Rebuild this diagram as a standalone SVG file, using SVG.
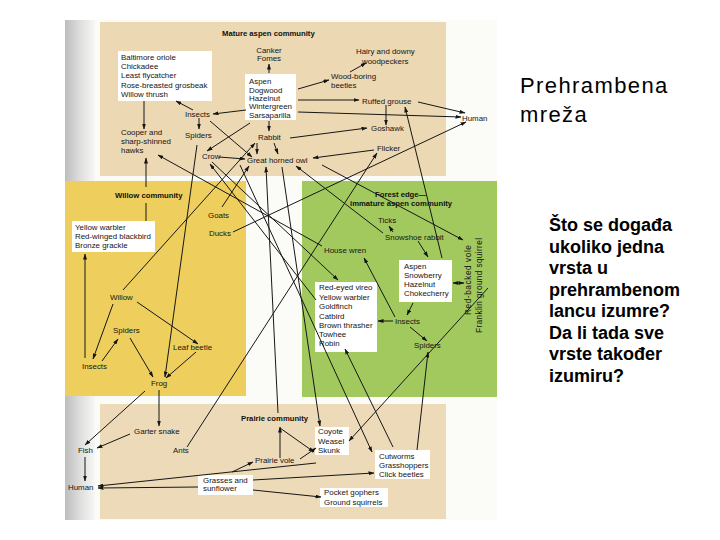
<svg xmlns="http://www.w3.org/2000/svg" width="720" height="540" viewBox="0 0 720 540">
<style>
.t{font-family:"Liberation Sans",Arial,sans-serif;font-size:7.9px;fill:#151515}
.b{font-family:"Liberation Sans",Arial,sans-serif;font-size:7.7px;font-weight:bold;fill:#111}
.box{fill:#ffffff}
.c line{stroke:#161616;stroke-width:1;marker-end:url(#ah)}
.c line.n{marker-end:none}
.h1{font-family:"Liberation Sans",Arial,sans-serif;font-size:22px;letter-spacing:1.4px;fill:#000}
.h2{font-family:"Liberation Sans",Arial,sans-serif;font-size:18px;font-weight:bold;fill:#000}
</style>
<defs>
<linearGradient id="gs" x1="0" y1="0" x2="1" y2="0">
<stop offset="0" stop-color="#bdbdbd"/>
<stop offset="0.5" stop-color="#dedede"/>
<stop offset="1" stop-color="#f7f7f5"/>
</linearGradient>
<marker id="ah" markerWidth="6" markerHeight="4" refX="5.5" refY="2" orient="auto" markerUnits="userSpaceOnUse">
<path d="M0,0 L6,2 L0,4 z" fill="#161616"/>
</marker>
<marker id="as" markerWidth="6" markerHeight="4" refX="0.5" refY="2" orient="auto" markerUnits="userSpaceOnUse">
<path d="M6,0 L0,2 L6,4 z" fill="#161616"/>
</marker>
</defs>
<rect width="720" height="540" fill="#ffffff"/>
<g id="background">
<rect x="65" y="20" width="432" height="500" fill="#fbfbf8"/>
<rect x="65" y="20" width="30" height="500" fill="url(#gs)"/>
<rect x="100" y="22" width="346" height="154" fill="#ecd8b2"/>
<rect x="65" y="181" width="181" height="215" fill="#eecf5d"/>
<rect x="302" y="181" width="195" height="216" fill="#a2c95e"/>
<rect x="100" y="404" width="346" height="115" fill="#ecdab9"/>
</g>
<g id="region-labels">
<text class="b" x="222" y="36">Mature aspen community</text>
<text class="b" x="115" y="198">Willow community</text>
<text class="b" x="375" y="197">Forest edge—</text>
<text class="b" x="350" y="206">immature aspen community</text>
<text class="b" x="241" y="421">Prairie community</text>
</g>
<g id="n-birds"><rect class="box" x="118" y="51" width="94" height="50"/>
<text class="t" x="121" y="60.4">Baltimore oriole</text><text class="t" x="121" y="69.4">Chickadee</text><text class="t" x="121" y="78.4">Least flycatcher</text><text class="t" x="121" y="87.7">Rose-breasted grosbeak</text><text class="t" x="121" y="96.7">Willow thrush</text></g>
<g id="n-canker"><text class="t" x="269" y="53" text-anchor="middle">Canker</text><text class="t" x="269" y="61" text-anchor="middle">Fomes</text></g>
<g id="n-aspen1"><rect class="box" x="245" y="74" width="51" height="46"/>
<text class="t" x="249" y="84.4">Aspen</text><text class="t" x="249" y="92.7">Dogwood</text><text class="t" x="249" y="101">Hazelnut</text><text class="t" x="249" y="109.4">Wintergreen</text><text class="t" x="249" y="117.7">Sarsaparilla</text></g>
<g id="n-woodpeckers"><text class="t" x="356" y="54.4">Hairy and downy</text><text class="t" x="362" y="63.7">woodpeckers</text></g>
<g id="n-woodboring"><text class="t" x="331" y="79.4">Wood-boring</text><text class="t" x="331" y="88.4">beetles</text></g>
<g id="n-grouse"><text class="t" x="362" y="103.7">Ruffed grouse</text></g>
<g id="n-human1"><text class="t" x="462" y="121">Human</text></g>
<g id="n-goshawk"><text class="t" x="371" y="131">Goshawk</text></g>
<g id="n-flicker"><text class="t" x="377" y="151">Flicker</text></g>
<g id="n-insects1"><text class="t" x="185" y="116.5">Insects</text></g>
<g id="n-spiders1"><text class="t" x="185" y="138.4">Spiders</text></g>
<g id="n-hawks"><text class="t" x="121" y="135">Cooper and</text><text class="t" x="121" y="144.4">sharp-shinned</text><text class="t" x="121" y="153.4">hawks</text></g>
<g id="n-crow"><text class="t" x="202" y="158.5">Crow</text></g>
<g id="n-rabbit"><text class="t" x="258" y="140.3">Rabbit</text></g>
<g id="n-owl"><text class="t" x="247" y="162.5">Great horned owl</text></g>
<g id="n-goats"><text class="t" x="208" y="218">Goats</text></g>
<g id="n-ducks"><text class="t" x="209" y="236">Ducks</text></g>
<g id="n-warbler"><rect class="box" x="72" y="221" width="83" height="31"/>
<text class="t" x="75" y="230">Yellow warbler</text><text class="t" x="75" y="238.7">Red-winged blackbird</text><text class="t" x="75" y="248.4">Bronze grackle</text></g>
<g id="n-willow"><text class="t" x="110" y="300.4">Willow</text></g>
<g id="n-spiders2"><text class="t" x="113" y="332.7">Spiders</text></g>
<g id="n-leafbeetle"><text class="t" x="173" y="350.4">Leaf beetle</text></g>
<g id="n-insects2"><text class="t" x="82" y="369.4">Insects</text></g>
<g id="n-frog"><text class="t" x="151" y="386">Frog</text></g>
<g id="n-ticks"><text class="t" x="378" y="222.7">Ticks</text></g>
<g id="n-snowshoe"><text class="t" x="385" y="239.7">Snowshoe rabbit</text></g>
<g id="n-housewren"><text class="t" x="324" y="252.7">House wren</text></g>
<g id="n-aspen2"><rect class="box" x="399" y="260" width="53" height="42"/>
<text class="t" x="404" y="268.7">Aspen</text><text class="t" x="404" y="277.7">Snowberry</text><text class="t" x="404" y="286.7">Hazelnut</text><text class="t" x="404" y="296">Chokecherry</text></g>
<g id="n-vole"><text class="t" transform="translate(471,315) rotate(-90)" textLength="70" lengthAdjust="spacing" style="font-size:8.3px">Red-backed vole</text></g>
<g id="n-squirrel"><text class="t" transform="translate(482,333) rotate(-90)" textLength="95" lengthAdjust="spacing" style="font-size:8.3px">Franklin ground squirrel</text></g>
<g id="n-songbirds"><rect class="box" x="315" y="282" width="62" height="70"/>
<text class="t" x="319" y="290.4">Red-eyed vireo</text><text class="t" x="319" y="299.7">Yellow warbler</text><text class="t" x="319" y="309">Goldfinch</text><text class="t" x="319" y="318.7">Catbird</text><text class="t" x="319" y="327.7">Brown thrasher</text><text class="t" x="319" y="337">Towhee</text><text class="t" x="319" y="346.4">Robin</text></g>
<g id="n-insects3"><text class="t" x="395" y="323.7">Insects</text></g>
<g id="n-spiders3"><text class="t" x="414" y="347.7">Spiders</text></g>
<g id="n-garter"><text class="t" x="134" y="433.5">Garter snake</text></g>
<g id="n-fish"><text class="t" x="78" y="453.4">Fish</text></g>
<g id="n-human2"><text class="t" x="68" y="490">Human</text></g>
<g id="n-ants"><text class="t" x="173" y="453.4">Ants</text></g>
<g id="n-prairievole"><text class="t" x="255" y="463.4">Prairie vole</text></g>
<g id="n-grasses"><rect class="box" x="198" y="475" width="55" height="20"/>
<text class="t" x="203" y="482.7">Grasses and</text><text class="t" x="203" y="491">sunflower</text></g>
<g id="n-coyote"><rect class="box" x="315" y="427" width="34" height="28"/>
<text class="t" x="318" y="434.4">Coyote</text><text class="t" x="318" y="443.7">Weasel</text><text class="t" x="318" y="452.7">Skunk</text></g>
<g id="n-cutworms"><rect class="box" x="375" y="450" width="55" height="29"/>
<text class="t" x="379" y="458.7">Cutworms</text><text class="t" x="379" y="467.7">Grasshoppers</text><text class="t" x="379" y="477">Click beetles</text></g>
<g id="n-gophers"><rect class="box" x="320" y="488" width="68" height="19"/>
<text class="t" x="324" y="495">Pocket gophers</text><text class="t" x="324" y="505">Ground squirrels</text></g>
<g id="connectors" class="c">
<line x1="269" y1="73" x2="269" y2="64"/>
<line x1="298" y1="89" x2="329" y2="80"/>
<line x1="350" y1="72" x2="366" y2="63"/>
<line x1="298" y1="100" x2="359" y2="100"/>
<line x1="298" y1="112" x2="461" y2="117"/>
<line x1="418" y1="102" x2="465" y2="113"/>
<line x1="386" y1="105" x2="386" y2="125"/>
<line x1="290" y1="138" x2="367" y2="128"/>
<line x1="374" y1="150" x2="313" y2="158"/>
<line x1="144" y1="101" x2="144" y2="129"/>
<line x1="193" y1="110" x2="176" y2="101"/>
<line x1="246" y1="110" x2="213" y2="114"/>
<line x1="199" y1="118" x2="199" y2="129"/>
<line x1="210" y1="121" x2="252" y2="157"/>
<line x1="269" y1="121" x2="269" y2="131"/>
<line x1="257" y1="143" x2="257" y2="154"/>
<line x1="274" y1="143" x2="278" y2="154"/>
<line x1="219" y1="157" x2="245" y2="159"/>
<line x1="250" y1="123" x2="207" y2="151"/>
<line x1="123" y1="290" x2="255" y2="143"/>
<line x1="197" y1="145" x2="165" y2="377"/>
<line x1="322" y1="246" x2="158" y2="155"/>
<line x1="316" y1="300" x2="210" y2="164"/>
<line x1="222" y1="207" x2="249" y2="166"/>
<line x1="233" y1="232" x2="466" y2="122"/>
<line x1="383" y1="233" x2="296" y2="166"/>
<line x1="442" y1="258" x2="405" y2="107"/>
<line x1="418" y1="241" x2="428" y2="257"/>
<line x1="187" y1="447" x2="377" y2="153"/>
<line x1="146" y1="187" x2="146" y2="158"/>
<line class="n" x1="146" y1="203" x2="146" y2="221"/>
<line x1="85" y1="358" x2="85" y2="254"/>
<line x1="113" y1="304" x2="93" y2="359"/>
<line x1="102" y1="361" x2="118" y2="339"/>
<line x1="137" y1="302" x2="198" y2="344"/>
<line x1="130" y1="338" x2="153" y2="377"/>
<line x1="196" y1="352" x2="166" y2="378"/>
<line x1="145" y1="391" x2="85" y2="445"/>
<line x1="159" y1="390" x2="159" y2="426"/>
<line x1="130" y1="434" x2="97" y2="448"/>
<line x1="85" y1="457" x2="85" y2="481"/>
<line x1="198" y1="487" x2="98" y2="488"/>
<line x1="316" y1="463" x2="98" y2="486"/>
<line x1="232" y1="472" x2="253" y2="462"/>
<line x1="300" y1="459" x2="316" y2="448"/>
<line x1="253" y1="480" x2="374" y2="473"/>
<line x1="253" y1="490" x2="321" y2="497"/>
<line x1="280" y1="458" x2="280" y2="427"/>
<line x1="278" y1="413" x2="266" y2="167"/>
<line x1="280" y1="428" x2="314" y2="452"/>
<line x1="393" y1="447" x2="345" y2="349"/>
<line x1="488" y1="288" x2="349" y2="441"/>
<line x1="417" y1="450" x2="428" y2="352"/>
<line x1="453" y1="283" x2="464" y2="283" marker-start="url(#as)"/>
<line x1="393" y1="232" x2="389" y2="226"/>
<line x1="413" y1="303" x2="407" y2="315"/>
<line x1="393" y1="321" x2="378" y2="321"/>
<line x1="395" y1="317" x2="364" y2="258"/>
<line x1="410" y1="327" x2="427" y2="341"/>
<line x1="322" y1="165" x2="463" y2="240"/>
<line x1="282" y1="167" x2="320" y2="426"/>
<line x1="212" y1="162" x2="338" y2="280"/>
<line x1="240" y1="165" x2="372" y2="452"/>
</g>
<g id="slide-text">
<text class="h1" x="520" y="93">Prehrambena</text>
<text class="h1" x="520" y="122">mreža</text>
<text class="h2" x="549" y="231">Što se događa</text>
<text class="h2" x="549" y="252.5">ukoliko jedna</text>
<text class="h2" x="549" y="274">vrsta u</text>
<text class="h2" x="549" y="295.5">prehrambenom</text>
<text class="h2" x="549" y="317">lancu izumre?</text>
<text class="h2" x="549" y="338.5">Da li tada sve</text>
<text class="h2" x="549" y="360">vrste također</text>
<text class="h2" x="549" y="381.5">izumiru?</text>
</g>
</svg>
